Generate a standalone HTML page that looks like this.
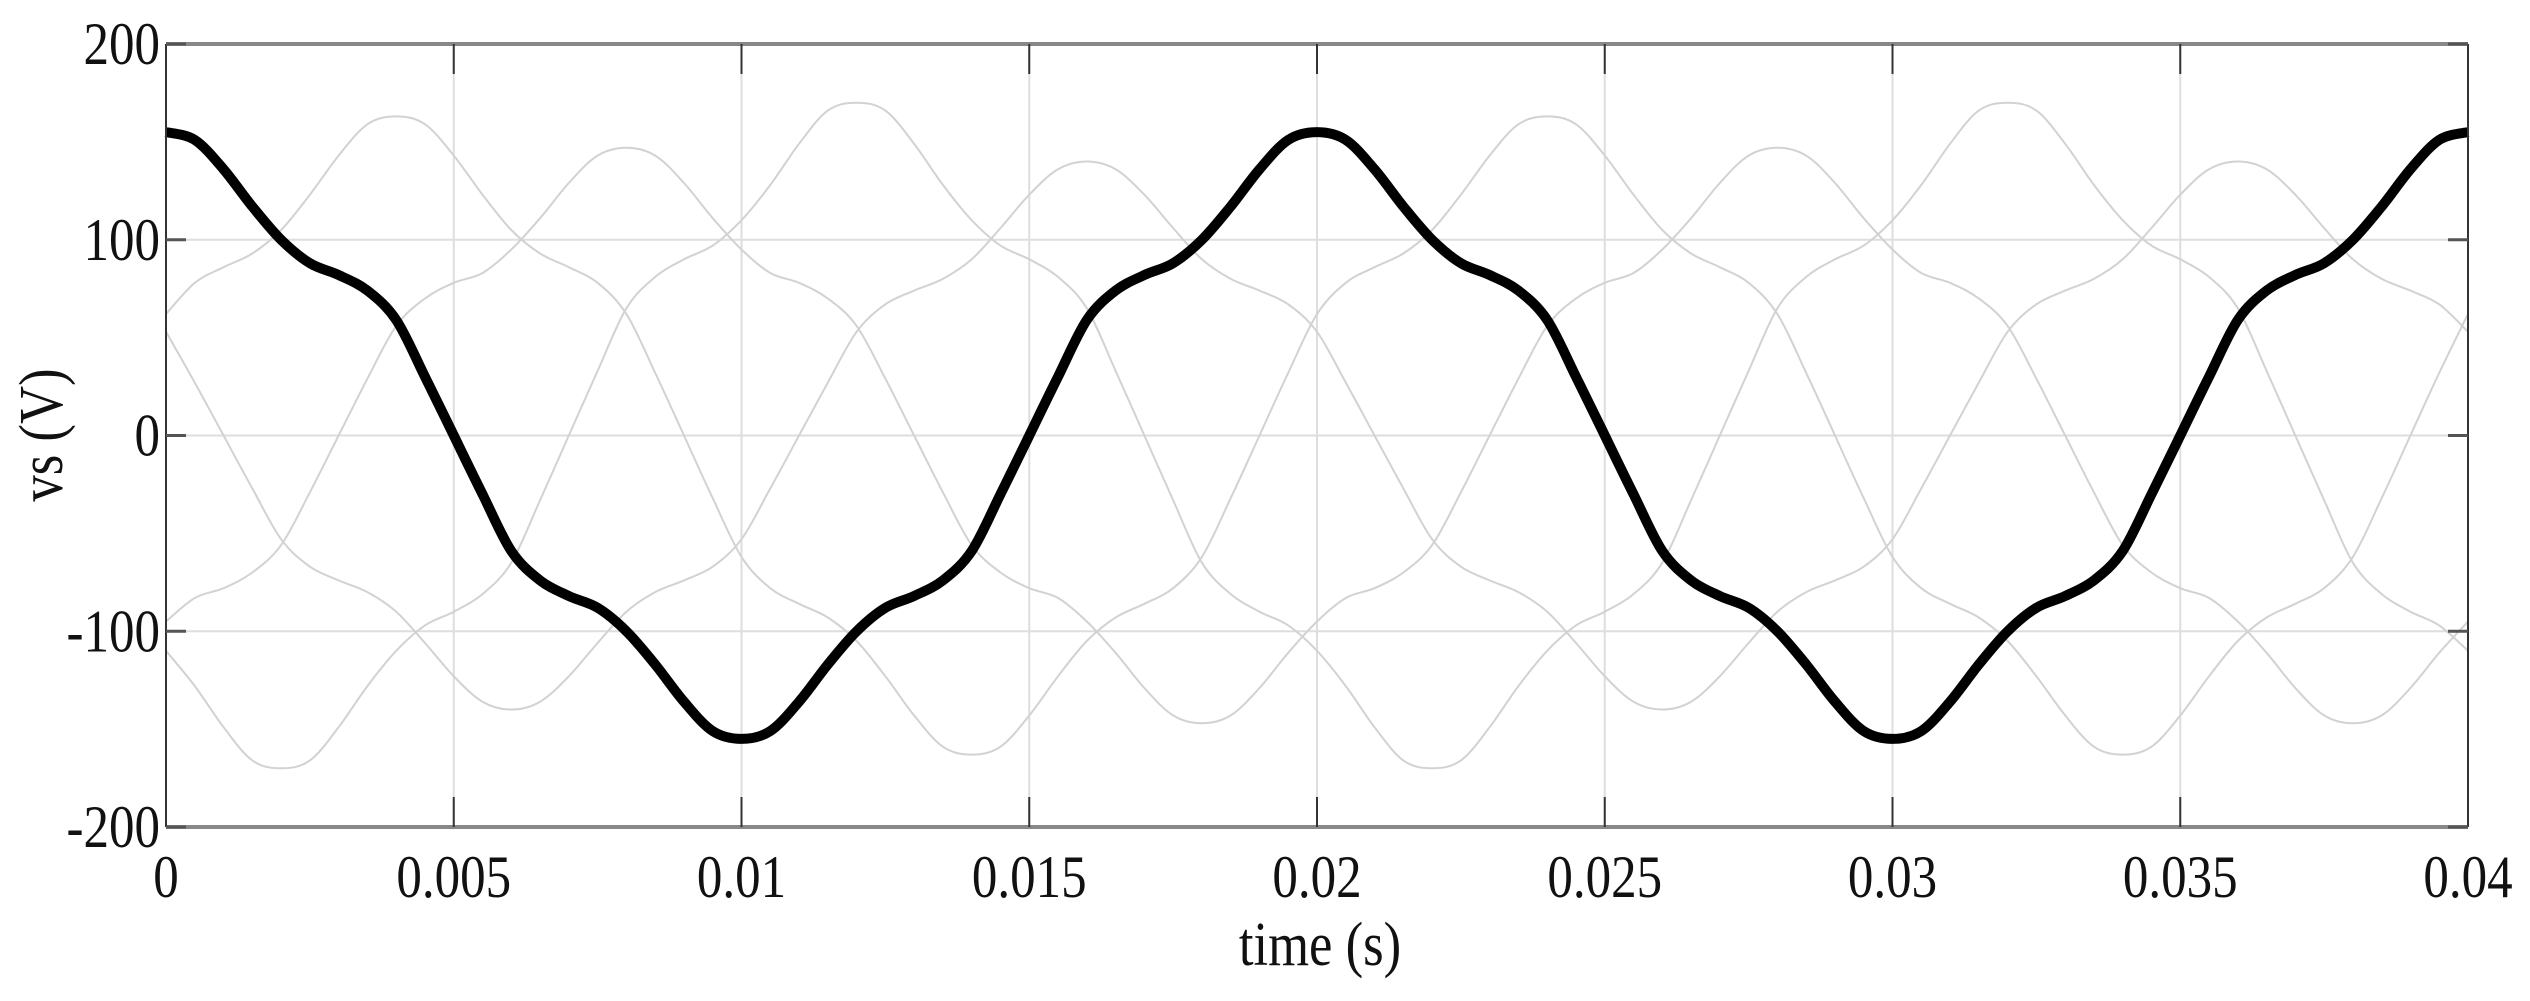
<!DOCTYPE html>
<html><head><meta charset="utf-8"><style>
html,body{margin:0;padding:0;background:#fff;}
svg{display:block;}
text{font-family:"Liberation Serif",serif;fill:#111;}
</style></head><body>
<svg id="chart" width="2530" height="1001" viewBox="0 0 2530 1001">
<g id="grid"></g>
<g id="gray"></g>
<g id="main"></g>
<g id="axes"></g>
<text transform="translate(62,435) rotate(-90) scale(0.85,1)" font-size="62" text-anchor="middle">vs (V)</text>
<text transform="translate(1320,965) scale(0.85,1)" font-size="62" text-anchor="middle">time (s)</text>
</svg>
<script>
const xTicks=[0,0.005,0.01,0.015,0.02,0.025,0.03,0.035,0.04];
const xTickLabels=["0","0.005","0.01","0.015","0.02","0.025","0.03","0.035","0.04"];
const yTicks=[-200,-100,0,100,200];
const yTickLabels=["-200","-100","0","100","200"];
// all series sampled every 0.0005 s
const timeStep=0.0005;
const vsValues=[155,151,136,117,100,88,82,74,59,30,0,-30,-59,-74,-82,-88,-100,-117,-136,-151,-155,
-151,-136,-117,-100,-88,-82,-74,-59,-30,0,30,59,74,82,88,100,117,136,151,155,
151,136,117,100,88,82,74,59,30,0,-30,-59,-74,-82,-88,-100,-117,-136,-151,-155,
-151,-136,-117,-100,-88,-82,-74,-59,-30,0,30,59,74,82,88,100,117,136,151,155];
const gray1=[62,78,86,93,105,123,143,159,
163,159,143,123,105,93,86,78,62,32,0,-32,-62,-78,-86,-93,-105,-123,-143,-159,-163,-159,-143,-123,-105,-93,-86,-78,-62,-32,0,32,62,78,86,93,105,123,143,159,
163,159,143,123,105,93,86,78,62,32,0,-32,-62,-78,-86,-93,-105,-123,-143,-159,-163,-159,-143,-123,-105,-93,-86,-78,-62,-32,0,32,62];
const gray2=[-110,-128,-149,-166,-170,-166,-149,-128,-110,-97,-90,-81,-65,-33,0,33,65,81,90,97,110,128,149,166,
170,166,149,128,110,97,90,81,65,33,0,-33,-65,-81,-90,-97,-110,-128,-149,-166,-170,-166,-149,-128,-110,-97,-90,-81,-65,-33,0,33,65,81,90,97,110,128,149,166,
170,166,149,128,110,97,90,81,65,33,0,-33,-65,-81,-90,-97,-110];
const gray3=[-95,-83,-78,-70,-56,-29,0,29,56,70,78,83,95,111,129,143,
147,143,129,111,95,83,78,70,56,29,0,-29,-56,-70,-78,-83,-95,-111,-129,-143,-147,-143,-129,-111,-95,-83,-78,-70,-56,-29,0,29,56,70,78,83,95,111,129,143,
147,143,129,111,95,83,78,70,56,29,0,-29,-56,-70,-78,-83,-95,-111,-129,-143,-147,-143,-129,-111,-95];
const gray4=[53,27,0,-27,-53,-67,-74,-80,-90,-106,-123,-136,-140,-136,-123,-106,-90,-80,-74,-67,-53,-27,0,27,53,67,74,80,90,106,123,136,
140,136,123,106,90,80,74,67,53,27,0,-27,-53,-67,-74,-80,-90,-106,-123,-136,-140,-136,-123,-106,-90,-80,-74,-67,-53,-27,0,27,53,67,74,80,90,106,123,136,
140,136,123,106,90,80,74,67,53];

const L=166,R=2468,T=44,B=827;
const X=t=>L+(t-0)/(0.04)*(R-L);
const Y=v=>B-(v+200)/400*(B-T);
const NS="http://www.w3.org/2000/svg";
function mk(tag,parent,attrs){const e=document.createElementNS(NS,tag);for(const k in attrs)e.setAttribute(k,attrs[k]);parent.appendChild(e);return e;}
function smooth(pts){let d="M"+pts[0][0].toFixed(1)+","+pts[0][1].toFixed(1);
 for(let i=0;i<pts.length-1;i++){const p0=pts[Math.max(i-1,0)],p1=pts[i],p2=pts[i+1],p3=pts[Math.min(i+2,pts.length-1)];
  const c1x=p1[0]+(p2[0]-p0[0])/6,c1y=p1[1]+(p2[1]-p0[1])/6,c2x=p2[0]-(p3[0]-p1[0])/6,c2y=p2[1]-(p3[1]-p1[1])/6;
  d+=" C"+c1x.toFixed(1)+","+c1y.toFixed(1)+" "+c2x.toFixed(1)+","+c2y.toFixed(1)+" "+p2[0].toFixed(1)+","+p2[1].toFixed(1);}
 return d;}
const grid=document.getElementById('grid');
xTicks.forEach((t,i)=>{const l=mk('line',grid,{x1:X(t),x2:X(t),y1:T,y2:B,stroke:'#dedede','stroke-width':2});

});
yTicks.forEach((v,i)=>{const l=mk('line',grid,{x1:L,x2:R,y1:Y(v),y2:Y(v),stroke:'#dedede','stroke-width':2});

});
const gray=document.getElementById('gray');
[gray1,gray2,gray3,gray4].forEach((s,j)=>{const pts=s.map((v,i)=>[X(i*timeStep),Y(v)]);
const p=mk('path',gray,{d:smooth(pts),fill:'none',stroke:'#d2d2d2','stroke-width':2});

});
const main=document.getElementById('main');
const mp=mk('path',main,{d:smooth(vsValues.map((v,i)=>[X(i*timeStep),Y(v)])),fill:'none',stroke:'#000','stroke-width':10,'stroke-linejoin':'round'});


const axes=document.getElementById('axes');
mk('line',axes,{x1:L,x2:R,y1:T,y2:T,stroke:'#888','stroke-width':4});
mk('line',axes,{x1:L,x2:R,y1:B,y2:B,stroke:'#888','stroke-width':4});
mk('line',axes,{x1:L,x2:L,y1:T,y2:B,stroke:'#333','stroke-width':2});
mk('line',axes,{x1:R,x2:R,y1:T,y2:B,stroke:'#333','stroke-width':2});
xTicks.forEach((t,i)=>{mk('line',axes,{x1:X(t),x2:X(t),y1:B,y2:B-30,stroke:'#333','stroke-width':2});
mk('line',axes,{x1:X(t),x2:X(t),y1:T,y2:T+30,stroke:'#333','stroke-width':2});
const tx=mk('text',axes,{transform:`translate(${X(t)},${B+70}) scale(0.85,1)`,'font-size':60,'text-anchor':'middle'});
tx.textContent=xTickLabels[i];

});
yTicks.forEach((v,i)=>{mk('line',axes,{x1:L,x2:L+20,y1:Y(v),y2:Y(v),stroke:'#555','stroke-width':3});
mk('line',axes,{x1:R,x2:R-20,y1:Y(v),y2:Y(v),stroke:'#555','stroke-width':3});
const tx=mk('text',axes,{transform:`translate(${L-6},${Y(v)+20}) scale(0.85,1)`,'font-size':60,'text-anchor':'end'});
tx.textContent=yTickLabels[i];

});
</script>
</body></html>
